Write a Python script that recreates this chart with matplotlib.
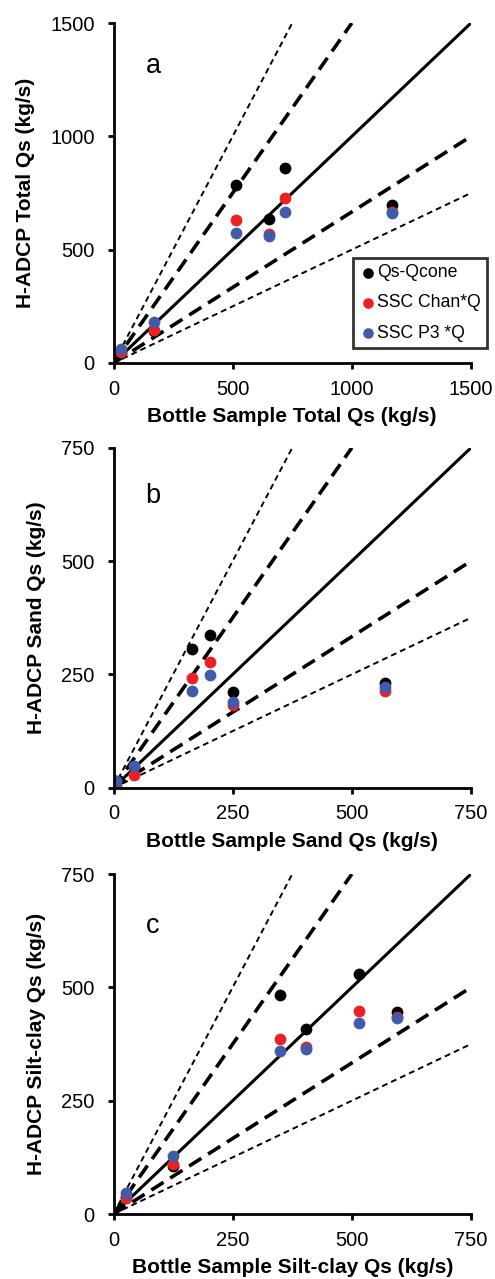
import matplotlib
matplotlib.use("Agg")
import matplotlib.pyplot as plt
import numpy as np

plt.rcParams['font.family'] = ['Liberation Sans', 'DejaVu Sans']

# panel a - total Qs
a_x = [30, 170, 514, 654, 719, 1167]
a_cone = [45, 140, 787, 637, 860, 699]
a_chan = [47, 147, 629, 569, 729, 666]
a_p3 = [63, 181, 574, 559, 668, 662]

# panel b - sand Qs
b_x = [5, 44, 165, 203, 251, 570]
b_cone = [15, 45, 307, 336, 212, 232]
b_chan = [6, 29, 241, 277, 183, 214]
b_p3 = [15, 48, 214, 248, 189, 223]

# panel c - silt-clay Qs
c_x = [26, 124, 349, 403, 515, 595]
c_cone = [38, 106, 483, 408, 529, 446]
c_chan = [36, 110, 387, 368, 449, 435]
c_p3 = [47, 128, 360, 365, 421, 433]

series_names = ["Qs-Qcone", "SSC Chan*Q", "SSC P3 *Q"]
series_colors = ["black", "#ed2024", "#3f5ba9"]

panels = [
    ("a", a_x, [a_cone, a_chan, a_p3], 1500, [0, 500, 1000, 1500],
     "Bottle Sample Total Qs (kg/s)", "H-ADCP Total Qs (kg/s)"),
    ("b", b_x, [b_cone, b_chan, b_p3], 750, [0, 250, 500, 750],
     "Bottle Sample Sand Qs (kg/s)", "H-ADCP Sand Qs (kg/s)"),
    ("c", c_x, [c_cone, c_chan, c_p3], 750, [0, 250, 500, 750],
     "Bottle Sample Silt-clay Qs (kg/s)", "H-ADCP Silt-clay Qs (kg/s)"),
]

# ratio lines through the origin
ratios = [2.0, 1.5, 1.0, 1 / 1.5, 0.5]

fig = plt.figure(figsize=(4.95, 12.79), dpi=100)
bottoms = [0.7162, 0.3841, 0.0508]
letter_y = [0.854, 0.838, 0.826]

for (letter, xs, ys, lim, ticks, xlab, ylab), b, ly in zip(panels, bottoms, letter_y):
    ax = fig.add_axes([0.2293, b, 0.7222, 0.2658])
    for r in ratios:
        xe = min(lim, lim / r)
        if r == 1.0:
            ax.plot([0, xe], [0, xe * r], color="black", lw=2.2, zorder=2)
        elif r in (1.5, 1 / 1.5):
            ax.plot([0, xe], [0, xe * r], color="black", lw=2.6,
                    dashes=(4, 2.2), zorder=2)
        else:
            ax.plot([0, xe], [0, xe * r], color="black", lw=1.4,
                    dashes=(3, 2.1), zorder=2)
    for yv, col, name in zip(ys, series_colors, series_names):
        ax.scatter(xs, yv, s=72, color=col, label=name, zorder=3,
                   linewidths=0)
    ax.set_xlim(0, lim)
    ax.set_ylim(0, lim)
    ax.set_xticks(ticks)
    ax.set_yticks(ticks)
    ax.spines['top'].set_visible(False)
    ax.spines['right'].set_visible(False)
    ax.spines['left'].set_linewidth(2)
    ax.spines['bottom'].set_linewidth(2)
    ax.tick_params(direction='out', length=4.5, width=2, labelsize=14.5)
    ax.tick_params(axis='x', pad=7.5)
    ax.tick_params(axis='y', pad=9)
    ax.set_xlabel(xlab, fontsize=15, fontweight='bold', labelpad=6)
    ax.set_ylabel(ylab, fontsize=15, fontweight='bold', labelpad=11)
    ax.text(0.0895, ly, letter, transform=ax.transAxes, fontsize=19.5,
            ha='left', va='baseline')
    for sp in ax.spines.values():
        sp.set_zorder(4)
    if letter == "a":
        leg = ax.legend(loc='upper left', bbox_to_anchor=(353 / 495, 1 - 258 / 1279),
                        bbox_transform=fig.transFigure, fontsize=12.7,
                        frameon=True, fancybox=False, edgecolor='black',
                        handletextpad=0.0, handlelength=1.0, borderpad=0.35,
                        labelspacing=0.75, borderaxespad=0, markerscale=0.9)
        leg.get_frame().set_linewidth(2)

fig.savefig("out.png", dpi=100)
